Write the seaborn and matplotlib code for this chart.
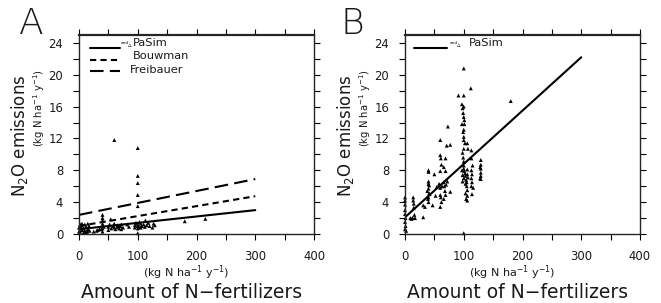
import matplotlib
matplotlib.use("Agg")
import matplotlib.pyplot as plt
import seaborn as sns

sns.set_style("ticks")
plt.rcParams["font.family"] = ["DejaVu Sans"]
plt.rcParams["mathtext.fontset"] = "dejavusans"

W, H = 661, 303

# regression lines (end points at 0 and 300 kg N)
line_x = [0, 300]
pasim_a = [0.6, 3.0]
bouwman = [1.0, 4.75]
freibauer = [2.4, 6.9]
pasim_b = [2.1, 22.2]

# panel A: simulated emissions
a_x = [0, 0, 2, 2, 2, 3, 5, 5, 5, 8, 8, 10, 10, 12, 12, 14, 15, 15, 17, 18,
       25, 30, 32, 35, 38, 40, 40, 40, 40, 40, 40, 40, 42,
       50, 50, 52, 54, 55, 58, 60, 60, 62, 65, 66, 68, 70, 72, 72, 75, 82, 85,
       60, 100, 100, 100, 100, 100, 100,
       95, 95, 97, 100, 100, 100, 102, 103, 105, 105, 107, 110, 112, 113, 115,
       118, 120, 125, 127, 129, 180, 215]
a_y = [0.3, 0.8, 0.3, 0.8, 1.2, 1.0, 0.5, 1.1, 1.3, 0.2, 0.7, 1.2, 0.4, 0.9, 0.2,
       0.3, 1.3, 0.6, 1.0, 0.4,
       0.3, 0.4, 0.5, 0.6, 0.6, 0.3, 0.7, 1.0, 1.3, 1.7, 2.0, 2.4, 0.9,
       0.5, 0.9, 1.2, 1.85, 0.7, 1.0, 0.8, 1.3, 0.6, 0.9, 1.1, 0.7, 1.0, 1.2, 0.6,
       0.8, 1.2, 0.9,
       11.8, 10.8, 7.3, 6.4, 4.9, 3.5, 0.1,
       0.8, 1.1, 1.4, 0.7, 1.0, 1.2, 0.9, 1.5, 0.8, 1.3, 1.0, 1.2, 0.9, 1.7, 1.1,
       1.4, 1.0, 0.8, 1.3, 1.1, 1.6, 1.9]

# panel B: simulated emissions
b_x = [0, 0, 0, 0, 0, 1, 0, 1, 0, 2,
       9, 11, 13, 17, 14, 14, 15, 15, 16, 31, 34, 31,
       40, 40, 40, 41, 40, 41, 40, 40, 38, 42, 40, 39, 47, 50, 54, 52,
       60, 60, 61, 62, 60, 60, 60, 61, 62, 60, 58, 63,
       66, 67, 68, 69, 66, 69, 69, 66, 71, 73, 77, 77, 72, 70,
       100, 91, 100, 97, 98, 99, 100, 97, 101, 100, 100, 100, 100, 99, 100, 101,
       100, 99, 102, 106, 107, 98,
       100, 100, 101, 102, 103, 100, 104, 105, 103, 106, 106, 107, 105, 106, 106,
       106, 104, 103, 98, 98, 97,
       113, 113, 113, 114, 113, 114, 113, 114, 112, 115, 116,
       129, 129, 129, 129, 129, 129, 128, 128, 180, 100]
b_y = [4.6, 4.2, 3.7, 3.0, 2.5, 2.0, 1.5, 1.0, 0.6, 0.4,
       2.0, 1.9, 2.0, 2.0, 4.6, 4.2, 3.8, 3.3, 2.4, 3.6, 3.4, 2.1,
       7.8, 8.0, 6.6, 6.1, 5.7, 5.1, 4.6, 4.0, 5.4, 5.0, 6.3, 4.4, 3.6, 7.5, 5.9, 4.8,
       11.8, 9.9, 9.5, 8.7, 7.9, 5.8, 4.9, 4.6, 4.0, 3.4, 6.3, 6.0,
       6.5, 6.0, 5.4, 4.9, 4.4, 9.5, 7.9, 8.4, 11.1, 13.5, 11.2, 5.3, 6.6, 6.2,
       20.8, 17.4, 17.4, 16.3, 15.8, 15.2, 14.7, 13.8, 13.8, 13.1, 12.2, 11.8,
       10.7, 9.6, 9.1, 14.3, 16.0, 12.8, 11.4, 11.4, 10.7, 10.2,
       8.6, 8.2, 7.9, 7.6, 7.3, 7.0, 6.8, 6.5, 6.3, 8.1, 7.5, 7.1, 6.0, 5.5, 4.8,
       4.2, 4.4, 5.1, 6.6, 7.4, 8.0,
       10.5, 9.5, 8.0, 7.5, 7.0, 6.5, 6.0, 5.0, 18.3, 8.6, 5.8,
       9.3, 8.7, 8.2, 7.7, 7.3, 6.9, 8.4, 7.0, 16.7, 0.1]

TXT = "#1a1a1a"
SHORT_DASH = (0, (3, 2))
LONG_DASH = (0, (6.5, 3))


def px(x, y):
    return x / W, 1 - y / H


fig = plt.figure(figsize=(W / 100, H / 100), dpi=100)


def panel(left_px, xs, ys, lines, labels, letter, letter_x, leg_x0, leg_x1,
          leg_text_x, and_x):
    ax = fig.add_axes([left_px / W, 69 / H, 235 / W, 199 / H])
    sns.scatterplot(x=xs, y=ys, ax=ax, marker="^", s=8, color="k",
                    edgecolor="none", clip_on=False, legend=False)
    for ys_line, ls in lines:
        sns.lineplot(x=line_x, y=ys_line, ax=ax, color="k", lw=1.5,
                     linestyle=ls)
    ax.set_xlim(0, 400)
    ax.set_ylim(0, 25)
    ax.set_xticks(range(0, 401, 100))
    ax.set_xticks(range(0, 401, 50), minor=True)
    ax.set_yticks(range(0, 25, 4))
    ax.set_yticks(range(0, 25, 2), minor=True)
    ax.tick_params(which="both", direction="out", length=4.3, width=0.8,
                   top=True, right=True, labelsize=8.4, colors="k",
                   labelcolor=TXT)
    ax.tick_params(axis="x", pad=7)
    ax.tick_params(axis="y", pad=7)
    for s in ax.spines.values():
        s.set_visible(True)
        s.set_linewidth(1.0)
    ax.spines["top"].set_linewidth(1.6)
    ax.set_xlabel("")
    ax.set_ylabel("")

    # legend drawn by hand
    line_rows = [0.935, 0.874, 0.819]
    text_rows = [0.958, 0.894, 0.826]
    text_shift = [0, 0, -0.013]
    for i, ((_, ls), lab) in enumerate(zip(lines, labels)):
        ax.plot([leg_x0, leg_x1], [line_rows[i]] * 2, transform=ax.transAxes,
                color="k", lw=1.5, ls=ls)
        ax.text(leg_text_x + text_shift[i], text_rows[i], lab,
                transform=ax.transAxes, fontsize=8.2, va="center", ha="left",
                color=TXT)
    ax.text(and_x, 0.962, "and", transform=ax.transAxes, fontsize=3.2,
            va="center", ha="left", color=TXT)
    ax.text(and_x + 0.03, 0.95, "\u25b5", transform=ax.transAxes,
            fontsize=5, va="center", ha="left", color=TXT)

    fig.text(*px(letter_x, 24), letter, fontsize=26, ha="center",
             va="center", color=TXT, fontweight="light")
    fig.text(*px(left_px - 59, 135.5), r"N$_2$O emissions", rotation=90,
             fontsize=12, ha="center", va="center", color=TXT)
    fig.text(*px(left_px - 40, 108), r"(kg N ha$^{-1}$ y$^{-1}$)",
             rotation=90, fontsize=7.2, ha="center", va="center", color=TXT)
    fig.text(*px(left_px + 107, 272.5), r"(kg N ha$^{-1}$ y$^{-1}$)",
             fontsize=8, ha="center", va="center", color=TXT)
    fig.text(*px(left_px + 113, 292), "Amount of N\u2212fertilizers",
             fontsize=13.5, ha="center", va="center", color=TXT)
    return ax


panel(79, a_x, a_y,
      [(pasim_a, "-"), (bouwman, SHORT_DASH), (freibauer, LONG_DASH)],
      ["PaSim", "Bouwman", "Freibauer"], "A", 31, 0.047, 0.174, 0.23, 0.178)
panel(405, b_x, b_y, [(pasim_b, "-")], ["PaSim"], "B", 352,
      0.038, 0.179, 0.272, 0.19)

fig.savefig("out.png", dpi=100)
